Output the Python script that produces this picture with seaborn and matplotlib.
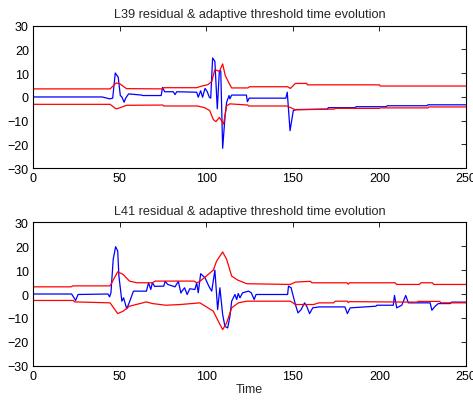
import matplotlib
matplotlib.use("Agg")
import matplotlib.pyplot as plt
import seaborn as sns
import pandas as pd

# ---- L39 residual and its adaptive threshold band ----
t39_res = [0, 40, 44.3, 46, 47.5, 49.2, 50.4, 51.3, 52.6, 53.5, 55.2, 62.5, 63.5, 74, 74.8, 76,
           81, 82, 83, 94.5, 95.4, 96.8, 97.9, 99.3, 100.6, 101.8, 102.6, 103.7, 105, 106.4,
           107.6, 108.4, 109.5, 110.9, 111.8, 113.2, 113.7, 114.7, 123.2, 123.8, 124.8, 146,
           146.8, 148.4, 150.3, 152, 170, 170.5, 186, 186.5, 204, 204.5, 227.5, 228, 250]
r39 = [0, 0, -0.8, -0.5, 10.1, 8.3, 0.6, 0, -2.2, -0.5, 1.3, 0.8, 0.6, 0.6, 4, 2.2,
       2.2, 1, 2.2, 2.0, -0.1, 2.6, -0.1, 3.6, 2.2, -0.1, -0.5, 16.4, 15, -5,
       11, 11, -21.6, -7.9, -2.2, 0.6, -0.8, 0.8, 0.8, -2, -0.5, -0.5,
       2, -14.2, -5.7, -5.3, -5.1, -4.5, -4.5, -4.1, -4.1, -3.7, -3.7, -3.3, -3.3]

t39_up = [0, 44.5, 48, 50, 54, 75, 75.5, 94.5, 97, 101, 103.2, 105, 107.6, 109.5, 111,
          113.4, 114.7, 124, 125, 147, 148.6, 151.5, 158, 158.5, 200, 200.5, 250]
up39 = [3.4, 3.4, 5.9, 5.6, 3.5, 3.4, 3.9, 3.9, 4.5, 5.2, 6.5, 11.5, 10.8, 13.9, 9,
        5.5, 3.8, 3.8, 4.3, 4.3, 3.6, 5.7, 5.7, 5.1, 5.1, 4.6, 4.6]

t39_lo = [0, 44.5, 47.9, 50, 54, 75, 75.5, 95, 99, 102, 104.1, 105.6, 107.6, 110, 111.8,
          113.7, 124, 124.5, 146.6, 151.5, 174, 174.5, 200, 200.5, 228, 228.5, 250]
lo39 = [-3.1, -3.1, -5.0, -4.6, -3.5, -3.4, -3.8, -3.8, -4.5, -5.7, -9.5, -10.4, -8.6, -11.4, -3.7,
        -2.9, -3.4, -3.8, -3.8, -5.4, -5.1, -4.8, -4.8, -4.6, -4.6, -4.2, -4.2]

# ---- L41 residual and its adaptive threshold band ----
t41_res = [0, 22.3, 24.6, 26, 43.3, 44.2, 45, 46.3, 47.7, 48.9, 49.6, 51.3, 52.3, 54.1, 55.5,
           58, 65.5, 66.7, 68, 68.9, 70.2, 75.5, 76.3, 77.8, 82, 83.9, 85.4, 86, 87.5, 89,
           90.5, 93.5, 94.5, 95.4, 96.8, 99.3, 101.5, 103.2, 105, 106.6, 107.9, 109.5, 110.8,
           112.4, 113.7, 114.7, 116.6, 117.6, 118.5, 119.5, 121, 124.5, 126, 127.7, 128.8,
           147, 147.5, 149, 151.5, 153, 154.8, 156.8, 158, 159.7, 161.5, 165, 180.1, 181.5,
           183.1, 198, 198.5, 208, 208.7, 210, 212.9, 215.2, 216.7, 229.3, 230.3, 232.2,
           234, 240.9, 241.5, 250]
r41 = [0, 0, -2.7, -0.2, 0, -1.2, 0.5, 14.5, 19.8, 18, 7.5, -3, -1.6, -6.2, -3.7,
       1.2, 1.2, 4.7, 1.9, 4.7, 3.2, 3.3, 5.3, 4, 3, 5.3, 0.4, 1.2, 2.6, -0.2,
       2.2, 1.9, 4.7, 0.5, 8.5, 6.8, 3.3, 1.2, 10, -6.5, 2.6, -8.6, -13.5,
       -14.2, -9.3, -3, -0.2, -2.3, 0.2, -1.6, 0.5, 1.2, 0.5, -2.3, -0.2,
       -0.2, 3.3, 2.6, -4.4, -7.9, -6.5, -3.7, -5.1, -8.2, -5.8, -5.4, -5.4, -8.2,
       -5.8, -5.1, -4.7, -4.7, -0.6, -5.8, -4.7, -0.6, -3.7, -3.7, -6.8, -5.1,
       -4, -4, -3.4, -3.4]

t41_up = [0, 22, 23, 44.5, 48.9, 52, 55.7, 60, 69, 70.5, 93, 94.5, 96.4, 104.1, 106,
          109.5, 111.8, 114.7, 118, 123.4, 148.6, 151.5, 160.2, 161, 181.3, 182, 182.8,
          209, 210, 223, 224, 230.5, 231.5, 250]
up41 = [3.0, 3.0, 3.4, 3.4, 9.3, 8.2, 5.4, 4.7, 4.7, 5.4, 5.4, 4.7, 5.3, 10, 13.8,
        17.6, 14.5, 7.5, 5.9, 4.3, 4.0, 5.0, 5.3, 4.7, 4.7, 4.1, 4.7,
        4.7, 4.0, 4.0, 4.7, 4.7, 4.0, 4.0]

t41_lo = [0, 23.3, 24, 44.5, 48.9, 52, 55.7, 63.4, 65.3, 69, 76.7, 85, 96.4, 104.1, 107,
          109.5, 111.8, 114.7, 118.6, 123.4, 148.6, 151.5, 162, 165, 173.5, 174.5, 181.5,
          182, 182.8, 221.6, 222.5, 234.8, 235.5, 250]
lo41 = [-2.7, -2.7, -3.3, -3.7, -8.2, -7.2, -5.1, -3.7, -3.3, -4.0, -4.7, -4.4, -3.7, -7.2, -11.4,
        -14.9, -12.1, -5.8, -3.7, -3.0, -3.0, -4.4, -4.4, -3.7, -3.7, -3.0, -3.0,
        -3.6, -3.2, -3.4, -3.1, -3.1, -3.7, -3.7]

titles = ["L39 residual & adaptive threshold time evolution",
          "L41 residual & adaptive threshold time evolution"]
x_ticks = [0, 50, 100, 150, 200, 250]
y_ticks = [-30, -20, -10, 0, 10, 20, 30]

sns.set_style("white")
plt.rcParams["font.family"] = ["Liberation Sans", "DejaVu Sans"]
plt.rcParams["font.size"] = 9

fig = plt.figure(figsize=(4.73, 4.02), dpi=100)
ax_top = fig.add_axes([0.0698, 0.579, 0.9154, 0.3546])
ax_bot = fig.add_axes([0.0698, 0.0878, 0.9154, 0.3567])

panels = [
    (ax_top, t39_res, r39, t39_up, up39, t39_lo, lo39, titles[0]),
    (ax_bot, t41_res, r41, t41_up, up41, t41_lo, lo41, titles[1]),
]

for ax, tr, rv, tu, uv, tl, lv, title in panels:
    res = pd.DataFrame({"Time": tr, "value": rv})
    upper = pd.DataFrame({"Time": tu, "value": uv})
    lower = pd.DataFrame({"Time": tl, "value": lv})
    sns.lineplot(data=res, x="Time", y="value", ax=ax, color="#0000ff",
                 linewidth=0.9, estimator=None, sort=False)
    sns.lineplot(data=upper, x="Time", y="value", ax=ax, color="#ff0000",
                 linewidth=0.9, estimator=None, sort=False)
    sns.lineplot(data=lower, x="Time", y="value", ax=ax, color="#ff0000",
                 linewidth=0.9, estimator=None, sort=False)
    ax.set_xlim(0, 250)
    ax.set_ylim(-30, 30)
    ax.set_xticks(x_ticks)
    ax.set_yticks(y_ticks)
    ax.tick_params(direction="in", length=3.5, width=0.6, top=True, right=True,
                   labelsize=9, pad=3, colors="black")
    for side in ax.spines.values():
        side.set_visible(True)
        side.set_color("black")
        side.set_linewidth(0.8)
    ax.set_title(title, fontsize=9.2, pad=6)
    ax.set_ylabel("")
    ax.set_xlabel("")

ax_bot.set_xlabel("Time", fontsize=9, labelpad=1)

fig.savefig("out.png", dpi=100)
